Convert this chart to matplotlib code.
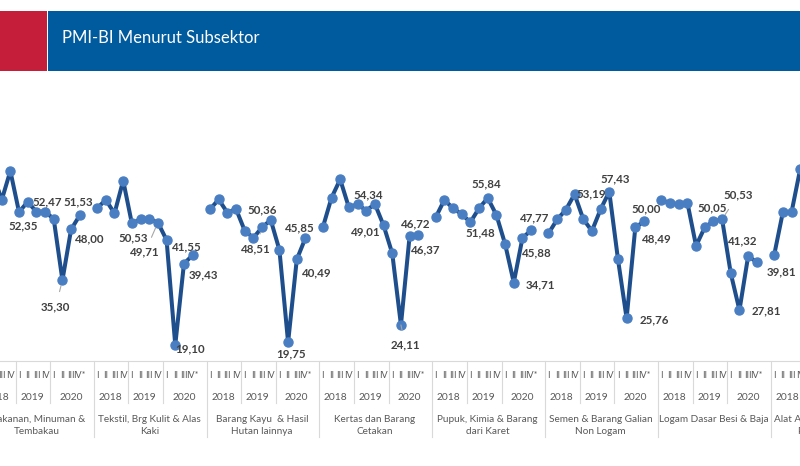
import matplotlib
matplotlib.use('Agg')
import matplotlib.pyplot as plt
import matplotlib.transforms as mtransforms
from matplotlib.lines import Line2D
from matplotlib.patches import Rectangle
import numpy as np

# Chart text
title = "PMI-BI Menurut Subsektor"
subsectors = [
    ("Makanan, Minuman &", "Tembakau"),
    ("Tekstil, Brg Kulit & Alas", "Kaki"),
    ("Barang Kayu  & Hasil", "Hutan lainnya"),
    ("Kertas dan Barang", "Cetakan"),
    ("Pupuk, Kimia & Barang", "dari Karet"),
    ("Semen & Barang Galian", "Non Logam"),
    ("Logam Dasar Besi & Baja", ""),
    ("Alat Angkutan, Mesin &", "Peralatannya"),
]
years = ["2018", "2019", "2020"]
quarters = ["I", "II", "III", "IV"]
quarters_last = ["I", "II", "III", "IV*"]

# PMI values per subsector, 2018Q1 .. 2020Q4
makanan = [56.0, 62.1, 55.3, 62.6, 52.35, 54.9, 52.4, 52.47, 50.6, 35.30, 48.00, 51.53]
tekstil = [53.3, 55.4, 52.0, 60.2, 49.5, 50.53, 50.6, 49.71, 45.35, 19.10, 39.43, 41.55]
kayu = [53.0, 55.5, 52.2, 53.1, 47.7, 45.9, 48.51, 50.36, 42.85, 19.75, 40.49, 45.85]
kertas = [48.5, 55.9, 60.5, 53.5, 54.3, 52.7, 54.34, 49.01, 42.0, 24.11, 46.37, 46.72]
pupuk = [51.0, 55.35, 53.3, 51.8, 49.8, 53.3, 55.84, 51.6, 44.35, 34.71, 45.88, 47.77]
semen = [47.0, 50.5, 52.9, 56.8, 50.6, 47.6, 53.0, 57.43, 40.6, 25.76, 48.49, 50.00]
logam = [55.35, 54.5, 54.3, 54.7, 43.9, 48.5, 50.05, 50.53, 37.0, 27.81, 41.32, 39.81]
alat = [41.6, 52.3, 52.3, 63.1]
series = [makanan, tekstil, kayu, kertas, pupuk, semen, logam, alat]

# data labels: (subsector, quarter index, text, dx px, dy px, leader line)
labels = [
    (0, 4, "52,35", 4.5, 14.3, False),
    (0, 7, "52,47", 1.8, -10, False),
    (0, 11, "51,53", -1.5, -13, False),
    (0, 10, "48,00", 18.5, 9.7, False),
    (0, 9, "35,30", -6.7, 26.4, True),
    (1, 5, "50,53", -7.7, 18.4, False),
    (1, 7, "49,71", -12.8, 29.4, True),
    (1, 11, "41,55", -6, -8.3, False),
    (1, 10, "39,43", 19.7, 11, False),
    (1, 9, "19,10", 15, 4.3, False),
    (2, 7, "50,36", -8.5, -10, False),
    (2, 6, "48,51", -6.7, 21.6, True),
    (2, 11, "45,85", -5.7, -10.4, False),
    (2, 10, "40,49", 19.7, 13.4, False),
    (2, 9, "19,75", 3, 11, False),
    (3, 6, "54,34", -7, -9.3, False),
    (3, 7, "49,01", -18, 6, False),
    (3, 11, "46,72", -3, -10.3, False),
    (3, 10, "46,37", 16, 14, False),
    (3, 9, "24,11", 4.3, 20, True),
    (4, 6, "55,84", -1.8, -14.3, False),
    (4, 4, "51,48", 10, 10.4, False),
    (4, 11, "47,77", 3, -12.6, False),
    (4, 10, "45,88", 14, 14.6, False),
    (4, 9, "34,71", 26.5, 2.3, False),
    (5, 3, "53,19", 16.7, 0, False),
    (5, 7, "57,43", 6, -12.4, False),
    (5, 11, "50,00", 1.7, -12.7, False),
    (5, 10, "48,49", 21.7, 11, False),
    (5, 9, "25,76", 27.7, 1, False),
    (6, 6, "50,05", -1, -13.4, False),
    (6, 7, "50,53", 15.7, -24, True),
    (6, 10, "41,32", -5, -15.3, False),
    (6, 9, "27,81", 27.2, 0.7, False),
    (6, 11, "39,81", 24.8, 10, False),
]

W, H = 800, 466
LINE = '#1f4e8c'
MARK = '#4a7ec2'
GRID = '#d9d9d9'
TXT = '#404040'
FONT = ['Lato', 'DejaVu Sans']

fig = plt.figure(figsize=(W / 100, H / 100), dpi=100)
ax = fig.add_axes([0, 1 - 360.7 / H, 1, (360.7 - 72) / H])

for g, vals in enumerate(series):
    x = 13 * g + np.arange(len(vals))
    ax.plot(x, vals, color=LINE, lw=2.9, marker='o', ms=6.5,
            mfc=MARK, mec=MARK, zorder=3, solid_joinstyle='round')

for g, i, txt, dx, dy, leader in labels:
    xy = (13 * g + i, series[g][i])
    props = None
    if leader:
        props = dict(arrowstyle='-', color='#a6a6a6', lw=0.8, shrinkA=5, shrinkB=4)
    ax.annotate(txt, xy=xy, xytext=(dx * 0.72, -dy * 0.72), textcoords='offset points',
                ha='center', va='center', fontsize=8.3, fontweight='bold',
                color=TXT, family=FONT, arrowprops=props, zorder=4)

ax.set_xlim(15.7 / 8.68, 815.7 / 8.68)
ax.set_ylim(15.175, 87.35)
for s in ['top', 'left', 'right']:
    ax.spines[s].set_visible(False)
ax.spines['bottom'].set_color(GRID)
ax.set_xticks([])
ax.set_yticks([])
ax.patch.set_alpha(0)

# category axis below the plot
trans = mtransforms.blended_transform_factory(ax.transData, fig.transFigure)


def fy(p):
    return 1 - p / H


for g in range(len(subsectors)):
    base = 13 * g
    for k, yr in enumerate(years):
        qs = quarters_last if k == len(years) - 1 else quarters
        for q, ql in enumerate(qs):
            ax.text(base + 4 * k + q, fy(376), ql, transform=trans, ha='center', va='center',
                    fontsize=6.5, color='#595959', family=FONT, clip_on=False)
        xc = base + 4 * k + 1.5 if k < 2 else base + 10
        ax.text(xc, fy(397), yr, transform=trans, ha='center', va='center',
                fontsize=7.4, color='#595959', family=FONT, clip_on=False)
    for xs in (base + 3.6, base + 7.6):
        fig.add_artist(Line2D([xs, xs], [fy(361), fy(403)], transform=trans, color=GRID, lw=0.8))
    fig.add_artist(Line2D([base - 0.4, base - 0.4], [fy(361), fy(437)], transform=trans, color=GRID, lw=0.8))
    l1, l2 = subsectors[g]
    ax.text(base + 6, fy(419), l1, transform=trans, ha='center', va='center',
            fontsize=7.2, color='#595959', family=FONT, clip_on=False)
    ax.text(base + 6, fy(431), l2, transform=trans, ha='center', va='center',
            fontsize=7.2, color='#595959', family=FONT, clip_on=False)

# title banner
fig.add_artist(Rectangle((0, fy(71)), 47 / W, 60 / H, transform=fig.transFigure,
                         facecolor='#c41e3a', edgecolor='none'))
fig.add_artist(Rectangle((48 / W, fy(71)), 752 / W, 60 / H, transform=fig.transFigure,
                         facecolor='#005a9e', edgecolor='none'))
fig.text(62 / W, fy(38), title, color='white', fontsize=12.0, family=FONT,
         ha='left', va='center')

fig.savefig('out.png', dpi=100)
